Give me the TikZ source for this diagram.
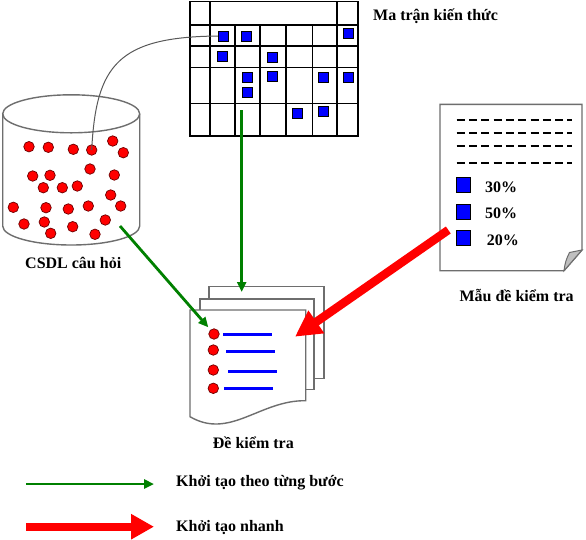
\documentclass[tikz,border=0pt]{standalone}
\usepackage{fontspec}
\setmainfont{Liberation Serif}
\usetikzlibrary{arrows.meta}
\definecolor{dgreen}{RGB}{0,128,0}
\definecolor{pblue}{RGB}{0,0,255}
\definecolor{pred}{RGB}{255,0,0}
\definecolor{edgegray}{RGB}{110,110,110}
\tikzset{
  lbl/.style={inner sep=0pt, anchor=base west, font=\fontsize{16}{19}\selectfont\bfseries},
  gridline/.style={draw=black, line width=1.3pt},
  bsq/.style={rectangle, fill=pblue, draw=black, line width=0.8pt, minimum size=10pt, inner sep=0pt},
  tsq/.style={rectangle, fill=pblue, draw=black, line width=0.8pt, minimum width=14pt, minimum height=15pt, inner sep=0pt},
  rdot/.style={circle, fill=pred, draw={rgb,255:red,110;green,0;blue,0}, line width=0.7pt, minimum size=10.5pt, inner sep=0pt},
  cyl/.style={draw=edgegray, line width=1.4pt},
  page/.style={draw=edgegray, fill=white, line width=1.4pt},
  dline/.style={draw=black, line width=2pt, dash pattern=on 8pt off 4.3pt},
  bline/.style={draw=pblue, line width=2.5pt},
  garrow/.style={draw=dgreen, line width=2.8pt, -{Triangle[length=10pt,width=9pt]}},
  rarrow/.style={draw=pred, line width=8.5pt, -{Triangle[length=26pt,width=26pt]}},
  link/.style={draw=black!65, line width=1pt}
}
\begin{document}
\begin{tikzpicture}[x=1pt,y=-1pt]
\useasboundingbox (0,0) rectangle (586,539);
\fill[white] (0,0) rectangle (586,539);

% ---- knowledge matrix ----
\node[draw=black, line width=1.3pt, minimum width=168pt, minimum height=134.3pt, inner sep=0pt] (grid) at (274,68.85) {};
\foreach \yy in {25,46,67.3,103.3} \draw[gridline] (190,\yy) -- (358,\yy);
\foreach \xx in {210,337} \draw[gridline] (\xx,1.7) -- (\xx,136);
\foreach \xx in {235,260,286,312.7} \draw[gridline] (\xx,25) -- (\xx,136);
\node[bsq] (s1) at (223.3,36) {};
\node[bsq] (s2) at (246.3,36) {};
\node[bsq] (s3) at (348.3,33.3) {};
\node[bsq] (s4) at (222.3,56.7) {};
\node[bsq] (s5) at (272.3,57.3) {};
\node[bsq] (s6) at (247.7,77.3) {};
\node[bsq] (s7) at (272.3,76.3) {};
\node[bsq] (s8) at (323.3,77.3) {};
\node[bsq] (s9) at (348.3,77.3) {};
\node[bsq] (s10) at (247.7,92.3) {};
\node[bsq] (s11) at (297.3,113.3) {};
\node[bsq] (s12) at (323.3,111) {};
\node[lbl] (gridlbl) at (373,20.7) {Ma trận kiến thức};

% ---- question database (cylinder) ----
\draw[cyl] (2.7,113.8) -- (2.7,226) arc[start angle=180, end angle=360, x radius=68.5pt, y radius=19pt] -- (139.7,113.8);
\draw[cyl] (71.2,113.8) ellipse[x radius=68.5pt, y radius=19pt];
\coordinate (cylout) at (120,226);
\foreach \px/\py [count=\i] in {29/146.7,48.3/147.3,73.3/149.3,91.7/150,112.7/141,123.3/152.7,
  32.7/176,50/175.3,90/169,114.3/175,43.3/187.7,62.3/187.7,77.3/186,110.7/195,
  13.3/207.3,46/207.7,68.3/209,88.3/206,120.7/206,24/224,44.3/222,72.7/226.7,105.3/220,
  50.7/233.3,95/234.3}
  \node[rdot] (q\i) at (\px,\py) {};
\node[lbl] (dblbl) at (25,268) {CSDL câu hỏi};

% link from a question to the matrix
\draw[link] (q4.center) .. controls (96,65) and (118,37) .. (s1.west);

% ---- template ----
\path[page] (440,104.3) -- (582,104.3) -- (582,250) -- (564,270.7) -- (440,270.7) -- cycle;
\filldraw[fill=black!25, draw=edgegray, line width=1pt] (564,270.7) to[bend left=10] (569.5,252.5) -- (582,250) -- cycle;
\coordinate (tpl) at (448.3,230);
\foreach \yy in {120,133.3,145.7,162.7} \draw[dline] (456.7,\yy) -- (572,\yy);
\node[tsq] (t1) at (463.3,185) {};
\node[tsq] (t2) at (463.3,211.7) {};
\node[tsq] (t3) at (463.3,238.3) {};
\node[lbl, anchor=west] (p1) at (485,187.5) {30\%};
\node[lbl, anchor=west] (p2) at (485,213.3) {50\%};
\node[lbl, anchor=west] (p3) at (486.7,240.3) {20\%};
\node[lbl] (tpllbl) at (459.3,301) {Mẫu đề kiểm tra};

% ---- test documents ----
\path[page] (209,286.7) rectangle (324,378.3);
\path[page] (200,299) rectangle (314,389.3);
\path[page] (190,310) -- (305.7,310) -- (305.7,400.7) .. controls (260,400) and (230,440) .. (190,416.7) -- cycle;
\node[rdot] (d1) at (214,334) {};
\node[rdot] (d2) at (213.3,350) {};
\node[rdot] (d3) at (213.3,370) {};
\node[rdot] (d4) at (213.3,388.3) {};
\draw[bline] (223.3,334.7) -- (271.7,334.7);
\draw[bline] (226,351.3) -- (275,351.3);
\draw[bline] (228.3,371.3) -- (276.7,371.3);
\draw[bline] (224.3,388.7) -- (272.7,388.7);
\coordinate (docin) at (295,336.7);
\coordinate (doctop) at (241.7,292);
\coordinate (docdot) at (208.3,327.3);
\coordinate (gridout) at (241.7,110);
\node[lbl] (doclbl) at (212.7,448.3) {Đề kiểm tra};

% ---- connectors ----
\draw[garrow] (gridout) -- (doctop);
\draw[garrow] (cylout) -- (docdot);
\draw[rarrow] (tpl) -- (docin);

% ---- legend ----
\coordinate (lg1a) at (26,484);
\coordinate (lg1b) at (154,484);
\coordinate (lg2a) at (26,526.7);
\coordinate (lg2b) at (154,526.7);
\draw[garrow] (lg1a) -- (lg1b);
\draw[draw=pred, line width=8pt, -{Triangle[length=23pt,width=24pt]}] (lg2a) -- (lg2b);
\node[lbl] (leg1) at (176,486.5) {Khởi tạo theo từng bước};
\node[lbl] (leg2) at (176,531) {Khởi tạo nhanh};
\end{tikzpicture}
\end{document}
